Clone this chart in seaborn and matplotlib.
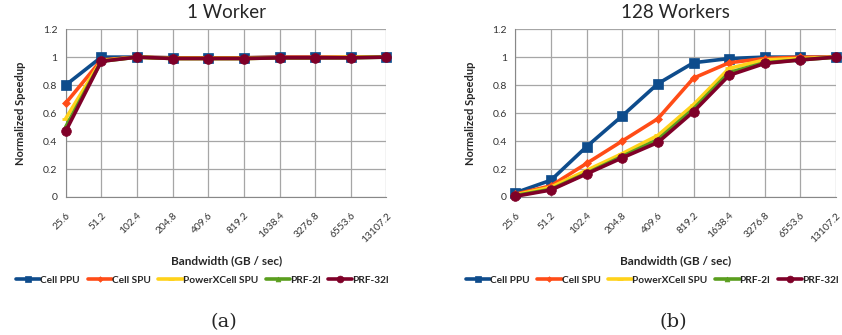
import seaborn as sns
import matplotlib.pyplot as plt
import pandas as pd

sns.set_style('whitegrid')
plt.rcParams['font.family'] = ['Lato', 'DejaVu Sans']

bandwidth = ['25.6', '51.2', '102.4', '204.8', '409.6', '819.2', '1638.4', '3276.8', '6553.6', '13107.2']
series = ['Cell PPU', 'Cell SPU', 'PowerXCell SPU', 'PRF-2l', 'PRF-32l']

# 1 worker
w1_cell_ppu = [0.80, 1.00, 1.00, 0.995, 0.995, 0.995, 1.00, 1.00, 1.00, 1.00]
w1_cell_spu = [0.67, 0.98, 1.00, 0.995, 0.995, 0.995, 1.00, 1.00, 1.00, 1.00]
w1_pxc_spu = [0.56, 0.975, 1.00, 0.99, 0.99, 0.99, 0.995, 0.995, 1.00, 1.00]
w1_prf_2l = [0.50, 0.97, 1.00, 0.99, 0.99, 0.99, 0.995, 0.995, 0.995, 1.00]
w1_prf_32l = [0.47, 0.97, 1.00, 0.99, 0.99, 0.99, 0.995, 0.995, 0.995, 1.00]

# 128 workers
w128_cell_ppu = [0.03, 0.12, 0.36, 0.58, 0.81, 0.96, 0.99, 1.00, 1.00, 1.00]
w128_cell_spu = [0.02, 0.08, 0.24, 0.40, 0.56, 0.85, 0.96, 0.99, 1.00, 1.00]
w128_pxc_spu = [0.015, 0.07, 0.19, 0.31, 0.44, 0.66, 0.92, 0.98, 0.99, 1.00]
w128_prf_2l = [0.01, 0.055, 0.17, 0.29, 0.41, 0.63, 0.89, 0.96, 0.98, 1.00]
w128_prf_32l = [0.005, 0.05, 0.165, 0.28, 0.39, 0.61, 0.87, 0.955, 0.98, 1.00]

colors = {'Cell PPU': '#0E4C8C', 'Cell SPU': '#FF4C17', 'PowerXCell SPU': '#FFD21A',
          'PRF-2l': '#5A9E1E', 'PRF-32l': '#7F0028'}
markers = {'Cell PPU': 's', 'Cell SPU': 'D', 'PowerXCell SPU': '_', 'PRF-2l': '^', 'PRF-32l': 'o'}
msize = {'Cell PPU': 7, 'Cell SPU': 4, 'PowerXCell SPU': 6, 'PRF-2l': 5, 'PRF-32l': 7}


def make_df(vals):
    rows = []
    for name, v in zip(series, vals):
        for i, y in enumerate(v):
            rows.append({'x': i, 'y': y, 'series': name})
    return pd.DataFrame(rows)


panels = [
    ('1 Worker', make_df([w1_cell_ppu, w1_cell_spu, w1_pxc_spu, w1_prf_2l, w1_prf_32l]), '(a)'),
    ('128 Workers', make_df([w128_cell_ppu, w128_cell_spu, w128_pxc_spu, w128_prf_2l, w128_prf_32l]), '(b)'),
]

fig = plt.figure(figsize=(8.42, 3.35), dpi=100)
lefts = [0.078, 0.612]
width = 0.381

for left, (title, df, cap) in zip(lefts, panels):
    ax = fig.add_axes([left, 0.412, width, 0.501])
    for name in series:
        d = df[df['series'] == name]
        sns.lineplot(data=d, x='x', y='y', ax=ax, color=colors[name], lw=2.6,
                     marker=markers[name], markersize=msize[name], mew=2 if name == 'PowerXCell SPU' else 0.5,
                     mec=colors[name], label=name, legend=False, clip_on=False, zorder=3)
    ax.set_xlim(0, 9)
    ax.set_ylim(0, 1.2)
    ax.set_xticks(range(len(bandwidth)))
    ax.set_xticklabels(bandwidth, rotation=45, ha='right', rotation_mode='anchor', fontsize=7.3, color='#333333')
    ax.set_yticks([0, 0.2, 0.4, 0.6, 0.8, 1.0, 1.2])
    ax.set_yticklabels(['0', '0.2', '0.4', '0.6', '0.8', '1', '1.2'], fontsize=7.5, color='#333333')
    ax.tick_params(axis='x', length=3, color='#888888', pad=7)
    ax.tick_params(axis='y', length=0, pad=6)
    ax.grid(True, color='#A6A6A6', lw=0.9)
    for s in ax.spines.values():
        s.set_visible(False)
    ax.spines['left'].set_visible(True)
    ax.spines['left'].set_color('#888888')
    ax.spines['bottom'].set_visible(True)
    ax.spines['bottom'].set_color('#888888')
    ax.set_title(title, fontsize=13.5, pad=8)
    ax.set_xlabel('Bandwidth (GB / sec)', fontsize=8.5, fontweight='bold', labelpad=8)
    ax.set_ylabel('Normalized Speedup', fontsize=8, fontweight='bold', labelpad=12)

    handles, labels = ax.get_legend_handles_labels()
    fig.legend(handles, labels, loc='center', ncol=5, frameon=False,
               bbox_to_anchor=(left + width / 2 - 0.028, 0.163),
               prop={'weight': 'bold', 'size': 7.3}, handlelength=2.4, handletextpad=0.0,
               columnspacing=0.75, markerscale=0.7)
    fig.text(left + width / 2 - 0.003, 0.04, cap, fontsize=14, family='DejaVu Serif', ha='center', va='center')

fig.savefig('out.png', dpi=100)
